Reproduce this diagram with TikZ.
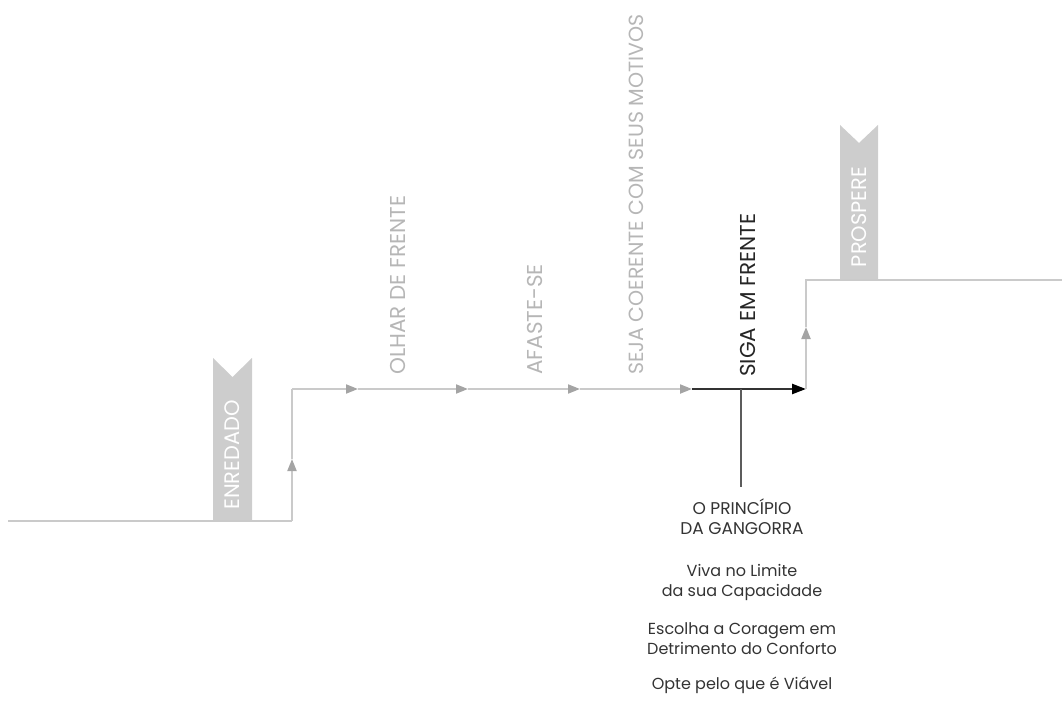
\documentclass[tikz,border=0pt]{standalone}
\usepackage{fontspec}
\setmainfont{Poppins}
\usetikzlibrary{arrows.meta}
\definecolor{pathgray}{HTML}{CACACA}
\definecolor{tipgray}{HTML}{A4A4A4}
\definecolor{labelgray}{HTML}{B6B6B6}
\definecolor{bannergray}{HTML}{CDCDCD}
\definecolor{inkgray}{HTML}{333333}
\tikzset{
  road/.style={draw=pathgray, line width=2pt},
  roadtip/.style={road, -{Triangle[length=12pt,width=9pt,color=tipgray]}},
  inktip/.style={draw=inkgray, line width=2.4pt, -{Triangle[length=14pt,width=10pt,color=black]}},
  stage/.style={rotate=90, anchor=west, inner sep=0pt, text=labelgray, font=\fontsize{21.5}{21.5}\selectfont},
  bannertext/.style={rotate=90, text=white, inner sep=0pt, font=\fontsize{21}{21}\selectfont},
  note/.style={align=center, inner sep=0pt, text=inkgray, font=\fontsize{16}{20}\selectfont}
}
\begin{document}
\begin{tikzpicture}[x=1pt,y=-1pt]
  \useasboundingbox (0,0) rectangle (1062,708);
  % banners
  \fill[bannergray] (213,521) -- (213,358) -- (232.5,377) -- (252,358) -- (252,521) -- cycle;
  \node[bannertext] (enredado) at (232.5,455) {ENREDADO};
  \fill[bannergray] (840,280) -- (840,125) -- (859,143) -- (878,125) -- (878,280) -- cycle;
  \node[bannertext] (prospere) at (859,217) {PROSPERE};
  % the path
  \coordinate (start) at (8,521);
  \coordinate (low) at (292,521);
  \coordinate (uptip) at (292,459);
  \coordinate (turn) at (292,389);
  \coordinate (olhartip) at (358,389);
  \coordinate (afastetip) at (468,389);
  \coordinate (sejatip) at (580,389);
  \coordinate (sigatip) at (692,389);
  \coordinate (step) at (806,389);
  \coordinate (risetip) at (806,327);
  \coordinate (high) at (806,280);
  \coordinate (finish) at (1062,280);
  \draw[road] (start) -- (low);
  \draw[roadtip] (low) -- (uptip);
  \draw[road] (uptip) -- (turn);
  \draw[roadtip] (turn) -- (olhartip);
  \draw[roadtip] (olhartip) -- (afastetip);
  \draw[roadtip] (afastetip) -- (sejatip);
  \draw[roadtip] (sejatip) -- (sigatip);
  \draw[inktip] (sigatip) -- (step);
  \draw[roadtip] (step) -- (risetip);
  \draw[road] (risetip) -- (high) -- (finish);
  % labels
  \node[stage] (olhar) at (398,375) {OLHAR DE FRENTE};
  \node[stage] (afaste) at (535,375) {AFASTE-SE};
  \node[stage, font=\fontsize{20.5}{20.5}\selectfont] (seja) at (636,375) {SEJA COERENTE COM SEUS MOTIVOS};
  \node[stage, text=black!85] (siga) at (748,377) {SIGA EM FRENTE};
  % the seesaw
  \coordinate (pivot) at (741,389);
  \coordinate (pivotend) at (741,487);
  \draw[draw=inkgray!80, line width=2pt] (pivot) -- (pivotend);
  \node[note, font=\fontsize{17}{20}\selectfont] (gangorra) at (742,517) {O PRINCÍPIO\\DA GANGORRA};
  \node[note] (limite) at (742,582) {Viva no Limite\\da sua Capacidade};
  \node[note] (coragem) at (742,639) {Escolha a Coragem em\\Detrimento do Conforto};
  \node[note] (viavel) at (742,685) {Opte pelo que é Viável};
\end{tikzpicture}
\end{document}
